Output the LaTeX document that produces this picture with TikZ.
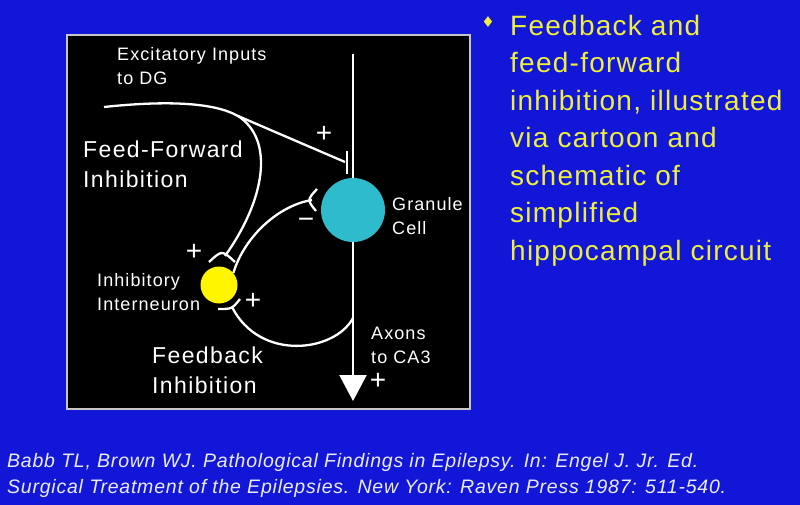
\documentclass[tikz,border=0pt]{standalone}
\usepackage{fontspec}
\setmainfont{Liberation Sans}
\newfontfamily\lblfont[LetterSpace=6]{Liberation Sans}
\newfontfamily\bulfont[LetterSpace=4.5]{Liberation Sans}
\newfontfamily\citefont[LetterSpace=4]{Liberation Sans}
\newfontfamily\symfont{DejaVu Sans}
\usetikzlibrary{arrows.meta}
\definecolor{slideblue}{RGB}{18,22,214}
\definecolor{granule}{RGB}{46,188,204}
\definecolor{inter}{RGB}{255,245,0}
\definecolor{bullet}{RGB}{238,238,60}
\definecolor{refgray}{RGB}{236,236,246}
\tikzset{
	wire/.style={white,line width=2.3pt},
	lbl/.style={text=white,inner sep=0pt,anchor=base west,align=left,font=\lblfont\fontsize{18}{24}\selectfont},
	biglbl/.style={lbl,font=\lblfont\fontsize{23}{30}\selectfont},
	sgn/.style={text=white,inner sep=0pt,font=\fontsize{28}{28}\selectfont},
}
\begin{document}
\begin{tikzpicture}[x=1pt,y=-1pt]
	\useasboundingbox (0,0) rectangle (800,505);
	\fill[slideblue] (0,0) rectangle (800,505);
	\filldraw[fill=black,draw=gray!45,line width=1.5pt] (67,35) rectangle (470,409);
	
	%cells
	\node[circle,fill=granule,minimum size=64pt,inner sep=0pt] (gc) at (353,210) {};
	\node[circle,fill=inter,minimum size=37pt,inner sep=0pt] (in) at (219,285) {};
	
	%dendrite, input and axon
	\coordinate (dtop) at (353,54);
	\coordinate (src) at (104,107);
	\coordinate (ffb) at (238,116);	%branch to interneuron
	\coordinate (esyn) at (345,162);
	\coordinate (axtip) at (353,401);
	\coordinate (fbb) at (353,318);	%branch back to interneuron
	\draw[wire] (dtop)--(gc.north);
	\draw[wire] (src) .. controls (170,100) and (215,103) .. (ffb)--(esyn);
	\draw[wire] (347,151)--(347,174);	%excitatory synapse on granule cell
	\draw[wire,-{Triangle[width=27pt,length=26pt]}] (gc.south)--(axtip);
	
	%feed-forward inhibition
	\draw[wire] (ffb) .. controls (275,140) and (265,200) .. (225,256);
	\draw[wire] (209,262) .. controls (222,250) .. (235,262);	%synapse on interneuron
	\draw[wire] (in.40) .. controls (245,235) and (280,205) .. (312,200);
	\draw[wire] (317,189) .. controls (307,200) .. (316,211);	%inhibitory synapse
	
	%feedback inhibition
	\draw[wire] (fbb) .. controls (335,352) and (260,362) .. (232,307);
	\draw[wire] (218,309) .. controls (232,309) .. (240,299);	%synapse on interneuron
	
	%signs
	\node[sgn] (p1) at (324,134) {+};
	\node[sgn] (m1) at (306,223) {−};
	\node[sgn] (p2) at (194,252) {+};
	\node[sgn] (p3) at (253,301) {+};
	\node[sgn] (p4) at (378,381) {+};
	
	%labels (anchored at last baseline)
	\node[lbl] (exc) at (117,85) {Excitatory Inputs\\to DG};
	\node[biglbl] (ffl) at (83,188) {Feed-Forward\\Inhibition};
	\node[lbl] (gcl) at (392,234) {Granule\\Cell};
	\node[lbl] (inl) at (97,310) {Inhibitory\\Interneuron};
	\node[lbl] (axl) at (371,363) {Axons\\to CA3};
	\node[biglbl] (fbl) at (152,393) {Feedback\\Inhibition};
	
	%bullet text
	\node[text=bullet,inner sep=0pt,font=\symfont\fontsize{15}{15}\selectfont] (dia) at (488,22) {♦};
	\node[text=bullet,inner sep=0pt,anchor=base west,align=left,font=\bulfont\fontsize{28}{37.5}\selectfont] (bul) at (510,260) {Feedback and\\feed-forward\\inhibition, illustrated\\via cartoon and\\schematic of\\simplified\\hippocampal circuit};
	
	%reference
	\node[text=refgray,inner sep=0pt,anchor=base west,align=left,font=\citefont\itshape\fontsize{19.5}{26}\selectfont] (cite) at (7,493) {Babb TL, Brown WJ. Pathological Findings in Epilepsy. In: Engel J. Jr. Ed.\\Surgical Treatment of the Epilepsies. New York: Raven Press 1987: 511-540.};
\end{tikzpicture}
\end{document}
